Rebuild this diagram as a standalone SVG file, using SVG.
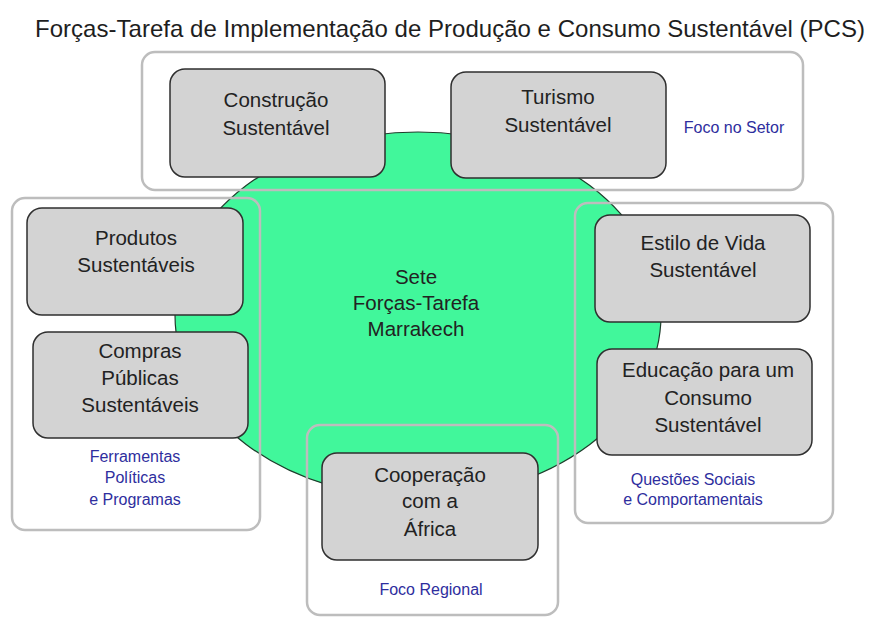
<svg xmlns="http://www.w3.org/2000/svg" width="873" height="617" viewBox="0 0 873 617">
<style>
  .title{font-family:"Liberation Sans",Arial,sans-serif;font-size:24px;fill:#1e1e1e}
  .grp{fill:none;stroke:#bdbdbd;stroke-width:2.5}
  .box{fill:#d3d3d3;stroke:#2f2f2f;stroke-width:1.5}
  .t{font-family:"Liberation Sans",Arial,sans-serif;font-size:20.5px;fill:#222;text-anchor:middle}
  .lbl{font-family:"Liberation Sans",Arial,sans-serif;font-size:16px;fill:#2e2e9e;text-anchor:middle}
  .hub{fill:#41f79b;stroke:#1f3d2c;stroke-width:1.2}
</style>
<rect width="873" height="617" fill="#ffffff"/>
<text class="title" x="35" y="37" textLength="830">Forças-Tarefa de Implementação de Produção e Consumo Sustentável (PCS)</text>

<g id="hub">
  <ellipse class="hub" cx="418" cy="315" rx="243" ry="183"/>
  <text class="t" x="416" y="284" font-size="20">Sete</text>
  <text class="t" x="416" y="310" font-size="20">Forças-Tarefa</text>
  <text class="t" x="416" y="336" font-size="20">Marrakech</text>
</g>

<g id="groups">
  <g id="grp-setor">
    <rect class="grp" x="142" y="52" width="661" height="138" rx="13"/>
    <text class="lbl" x="734" y="133">Foco no Setor</text>
  </g>
  <g id="grp-ferramentas">
    <rect class="grp" x="12" y="198" width="248" height="332" rx="13"/>
    <text class="lbl" x="135" y="462">Ferramentas</text>
    <text class="lbl" x="135" y="483">Políticas</text>
    <text class="lbl" x="135" y="505">e Programas</text>
  </g>
  <g id="grp-sociais">
    <rect class="grp" x="575" y="203" width="258" height="320" rx="13"/>
    <text class="lbl" x="693" y="485">Questões Sociais</text>
    <text class="lbl" x="693" y="505">e Comportamentais</text>
  </g>
  <g id="grp-regional">
    <rect class="grp" x="307" y="425" width="251" height="190" rx="13"/>
    <text class="lbl" x="431" y="595">Foco Regional</text>
  </g>
</g>

<g id="construcao">
  <rect class="box" x="170" y="69" width="215" height="108" rx="15"/>
  <text class="t" x="276" y="107">Construção</text>
  <text class="t" x="276" y="135">Sustentável</text>
</g>
<g id="turismo">
  <rect class="box" x="451" y="72" width="215" height="106" rx="15"/>
  <text class="t" x="558" y="104">Turismo</text>
  <text class="t" x="558" y="132">Sustentável</text>
</g>
<g id="produtos">
  <rect class="box" x="27" y="208" width="216" height="107" rx="15"/>
  <text class="t" x="136" y="245">Produtos</text>
  <text class="t" x="136" y="272">Sustentáveis</text>
</g>
<g id="compras">
  <rect class="box" x="33" y="332" width="215" height="106" rx="15"/>
  <text class="t" x="140" y="358">Compras</text>
  <text class="t" x="140" y="385">Públicas</text>
  <text class="t" x="140" y="412">Sustentáveis</text>
</g>
<g id="estilo">
  <rect class="box" x="595" y="215" width="215" height="107" rx="15"/>
  <text class="t" x="703" y="250">Estilo de Vida</text>
  <text class="t" x="703" y="277">Sustentável</text>
</g>
<g id="educacao">
  <rect class="box" x="597" y="349" width="215" height="106" rx="15"/>
  <text class="t" x="708" y="377">Educação para um</text>
  <text class="t" x="708" y="405">Consumo</text>
  <text class="t" x="708" y="432">Sustentável</text>
</g>
<g id="cooperacao">
  <rect class="box" x="322" y="453" width="216" height="107" rx="15"/>
  <text class="t" x="430" y="482">Cooperação</text>
  <text class="t" x="430" y="508">com a</text>
  <text class="t" x="430" y="536">África</text>
</g>
<g id="connectors"></g>
</svg>
